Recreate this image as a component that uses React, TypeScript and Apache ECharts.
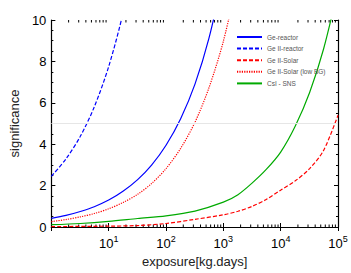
import React, { useEffect, useRef } from "react";
import * as echarts from "echarts";

const geReactorX = [1, 1.8, 3.2, 5.6, 10, 18, 32, 56, 100, 180, 320, 560, 1000];
const geReactorY = [0.42, 0.56, 0.75, 0.98, 1.3, 1.74, 2.29, 2.99, 3.95, 5.23, 6.9, 9.11, 12.17];

const geIIReactorX = [1, 1.8, 3.2, 5.6, 10, 18, 32];
const geIIReactorY = [2.45, 3.29, 4.38, 5.8, 7.75, 10.4, 13.9];

const geIISolarX = [1, 10, 32, 100, 320, 1000, 1800, 3200, 5600, 10000, 18000, 32000, 56000, 100000];
const geIISolarY = [0.02, 0.04, 0.07, 0.17, 0.37, 0.59, 0.76, 1.0, 1.33, 1.78, 2.23, 2.82, 3.7, 5.4];

const geIISolarLowX = [1, 1.8, 3.2, 5.6, 10, 18, 32, 56, 100, 180, 320, 560, 1000, 1800];
const geIISolarLowY = [0.26, 0.36, 0.49, 0.65, 0.88, 1.19, 1.58, 2.1, 2.82, 3.8, 5.06, 6.72, 8.97, 12.05];

const csiX = [1, 3.2, 10, 32, 100, 320, 1000, 1800, 3200, 5600, 10000, 18000, 32000, 56000, 100000];
const csiY = [0.11, 0.17, 0.27, 0.41, 0.54, 0.77, 1.2, 1.56, 2.13, 2.78, 3.62, 4.88, 6.5, 8.6, 11.48];

const seriesNames = ["Ge-reactor", "Ge II-reactor", "Ge II-Solar", "Ge II-Solar (low BG)", "CsI - SNS"];
const minorTickValues = [
  2, 3, 4, 5, 6, 7, 8, 9,
  20, 30, 40, 50, 60, 70, 80, 90,
  200, 300, 400, 500, 600, 700, 800, 900,
  2000, 3000, 4000, 5000, 6000, 7000, 8000, 9000,
  20000, 30000, 40000, 50000, 60000, 70000, 80000, 90000,
];
const referenceLevel = 5;

const zip = (xs: number[], ys: number[]) => xs.map((x, i) => [x, ys[i]]);

export default function App() {
  const ref = useRef<HTMLDivElement>(null);
  useEffect(() => {
    if (!ref.current) return;
    const chart = echarts.init(ref.current, null, { renderer: "svg" });
    const font = "Liberation Sans, Arial, Helvetica, sans-serif";
    const lineSeries = (name: string, data: number[][], color: string, type: any, extra: any = {}) => ({
      name,
      type: "line",
      data,
      smooth: 0.3,
      symbol: "none",
      lineStyle: { color, width: 1.2, type },
      itemStyle: { color },
      clip: true,
      ...extra,
    });
    chart.setOption({
      animation: false,
      textStyle: { fontFamily: font },
      grid: { left: 41, right: 13, top: 20, bottom: 44 },
      legend: {
        orient: "vertical",
        left: 231,
        top: 28.5,
        itemWidth: 25,
        itemHeight: 4,
        itemGap: 4.6,
        data: seriesNames,
        itemStyle: { opacity: 0 },
        textStyle: { fontSize: 6.5, color: "#555", fontFamily: font },
      },
      xAxis: [
        {
          type: "log",
          logBase: 10,
          min: 1,
          max: 100000,
          splitNumber: 5,
          name: "exposure[kg.days]",
          nameLocation: "middle",
          nameGap: 28,
          nameTextStyle: { fontSize: 13, color: "#222", fontFamily: font },
          axisLine: { lineStyle: { color: "#000", width: 1.2 } },
          axisTick: { inside: true, length: 4, lineStyle: { color: "#000" } },
          splitLine: { show: false },
          axisLabel: {
            margin: 7,
            color: "#000",
            formatter: (v: number) => {
              const e = Math.round(Math.log10(v));
              if (e === 0) return "";
              return `{b|10}{s|${e}}`;
            },
            rich: {
              b: { fontSize: 13, color: "#000", fontFamily: font, verticalAlign: "bottom" },
              s: { fontSize: 9, color: "#000", fontFamily: font, verticalAlign: "bottom", padding: [0, 0, 7, 0] },
            },
          },
        },
        {
          type: "log",
          logBase: 10,
          min: 1,
          max: 100000,
          position: "top",
          axisLine: { lineStyle: { color: "#000", width: 1.2 } },
          axisTick: { inside: true, length: 4, lineStyle: { color: "#000" } },
          axisLabel: { show: false },
          splitLine: { show: false },
        },
      ],
      yAxis: [
        {
          type: "value",
          min: 0,
          max: 10,
          interval: 2,
          name: "significance",
          nameLocation: "middle",
          nameGap: 18,
          nameTextStyle: { fontSize: 13, color: "#222", fontFamily: font },
          axisLine: { show: true, lineStyle: { color: "#000", width: 1.2 } },
          axisTick: { show: true, inside: true, length: 4, lineStyle: { color: "#000" } },
          minorTick: { show: true, splitNumber: 4, length: 2, lineStyle: { color: "#000" } },
          axisLabel: { fontSize: 13, color: "#000", margin: 5 },
          splitLine: { show: false },
        },
        {
          type: "value",
          min: 0,
          max: 10,
          interval: 2,
          position: "right",
          axisLine: { show: true, lineStyle: { color: "#000", width: 1.2 } },
          axisTick: { show: true, inside: true, length: 4, lineStyle: { color: "#000" } },
          minorTick: { show: true, splitNumber: 4, length: 2, lineStyle: { color: "#000" } },
          axisLabel: { show: false },
          splitLine: { show: false },
        },
      ],
      series: [
        lineSeries("Ge-reactor", zip(geReactorX, geReactorY), "#0000ff", "solid", {
          markLine: {
            silent: true,
            symbol: "none",
            label: { show: false },
            lineStyle: { color: "#e6e6e6", type: "solid", width: 1 },
            data: [{ yAxis: referenceLevel }],
          },
        }),
        lineSeries("Ge II-reactor", zip(geIIReactorX, geIIReactorY), "#0000ff", [4, 2]),
        lineSeries("Ge II-Solar", zip(geIISolarX, geIISolarY), "#ff0000", [4, 2]),
        lineSeries("Ge II-Solar (low BG)", zip(geIISolarLowX, geIISolarLowY), "#ff0000", [1.2, 1.2]),
        lineSeries("CsI - SNS", zip(csiX, csiY), "#00aa00", "solid"),
        {
          type: "custom",
          name: "minorTicks",
          silent: true,
          clip: false,
          data: minorTickValues.map((v) => [v, 0]),
          encode: { x: 0, y: 1 },
          renderItem: (params: any, api: any) => {
            const x = api.value(0);
            const pb = api.coord([x, 0]);
            const pt = api.coord([x, 10]);
            return {
              type: "group",
              children: [
                { type: "line", shape: { x1: pb[0], y1: pb[1], x2: pb[0], y2: pb[1] - 2.5 }, style: { stroke: "#000", lineWidth: 1 } },
                { type: "line", shape: { x1: pt[0], y1: pt[1], x2: pt[0], y2: pt[1] + 2.5 }, style: { stroke: "#000", lineWidth: 1 } },
              ],
            };
          },
        },
      ],
    });
    return () => chart.dispose();
  }, []);
  return <div ref={ref} style={{ width: 351, height: 273, position: "absolute", left: 0, top: 0, background: "#fff" }} />;
}
